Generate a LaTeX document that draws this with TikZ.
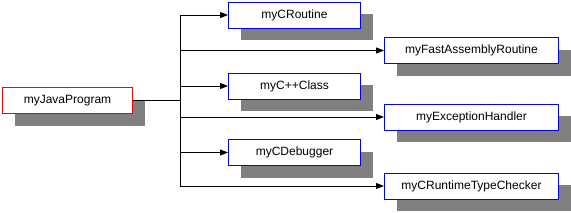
\documentclass[tikz,border=0pt]{standalone}
\usepackage{fontspec}
\setmainfont{Liberation Sans}
\usepackage{tikz}
\usetikzlibrary{arrows.meta, shadows}
\definecolor{boxblue}{HTML}{0000FF}
\definecolor{boxred}{HTML}{FF0000}
\definecolor{shadowgray}{HTML}{808080}

\tikzset{
  classbox/.style={draw=boxblue, line width=1pt, fill=white, inner sep=0pt,
    minimum height=26pt, font=\fontsize{12}{14}\selectfont,
    drop shadow={shadow xshift=12pt, shadow yshift=-12pt,
                 fill=shadowgray, opacity=1}},
  leftbox/.style={classbox, minimum width=132pt},
  rightbox/.style={classbox, minimum width=174pt},
  mainbox/.style={classbox, draw=boxred, minimum width=130pt},
  call/.style={line width=1pt, -{Triangle[length=8pt, width=6pt]}}
}

\begin{document}
\begin{tikzpicture}[x=1pt, y=-1pt]
  \useasboundingbox (0,0) rectangle (571,212);

  %% caller
  \node[mainbox] (java) at (67.5,100.5) {myJavaProgram};

  %% callees, left column
  \node[leftbox] (croutine)  at (294.5,15)  {myCRoutine};
  \node[leftbox] (cppclass)  at (294.5,86)  {myC++Class};
  \node[leftbox] (cdebugger) at (294.5,152.5) {myCDebugger};

  %% callees, right column
  \node[rightbox] (fastasm)    at (471.5,50.5) {myFastAssemblyRoutine};
  \node[rightbox] (exhandler)  at (471.5,117)  {myExceptionHandler};
  \node[rightbox] (rttchecker) at (471.5,186)  {myCRuntimeTypeChecker};

  %% trunk
  \coordinate (trunktop) at (180,15);
  \coordinate (trunkbot) at (180,186);
  \draw[line width=1pt] (trunktop) -- (trunkbot);
  \draw[line width=1pt] (java.east) -- (java.east -| trunktop);

  %% calls
  \foreach \callee in {croutine, fastasm, cppclass, exhandler, cdebugger, rttchecker}
    \draw[call] (\callee.west -| trunktop) -- (\callee.west);

\end{tikzpicture}
\end{document}
